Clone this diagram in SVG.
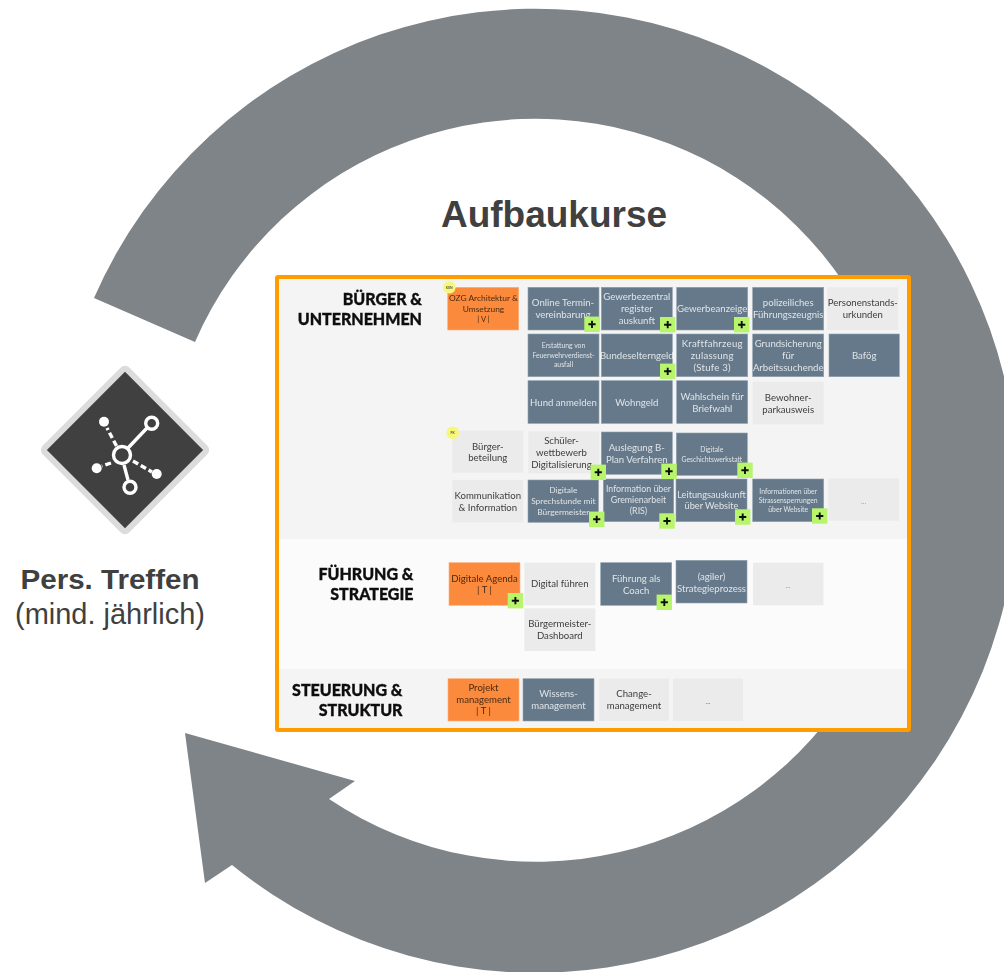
<svg xmlns="http://www.w3.org/2000/svg" width="1004" height="972" viewBox="0 0 1004 972">
<defs>
<filter id="soft" x="-2%" y="-2%" width="104%" height="104%"><feGaussianBlur stdDeviation="0.45"/></filter>
<rect id="p" x="-7.7" y="-7.7" width="15.4" height="15.4" fill="#b9f56b"/>
<path id="pm" d="M-3.6 0H3.6M0-3.6V3.6" stroke="#111" stroke-width="1.9" fill="none"/>
</defs>
<style>
text{font-family:"Lato","Liberation Sans",sans-serif;text-anchor:middle}
.b rect{fill:#66798a;stroke:#8fa0ae;stroke-width:.6}
.b text{fill:#dfe4e8;font-size:9.6px}
.g rect{fill:#ebebeb}
.g text{fill:#3d3d3d;font-size:9.6px}
.o rect{fill:#fb8a3e;stroke:#fcb07c;stroke-width:.6}
.o text{fill:#4a2a12;font-size:9.6px}
.s{font-size:6.8px!important}
.x{font-size:7.6px!important}
.h{font-family:"Lato","Liberation Sans",sans-serif;font-weight:900;font-size:16px;fill:#111;stroke:#111;stroke-width:.35;text-anchor:end}
.lab{font-family:"Liberation Sans",Arial,sans-serif}
</style>
<g id="cycle-arrow"><path d="M94 298A482 482 0 1 1 232 865L205 883L185 733L355 781L329 799A371.5 371.5 0 1 0 195 342Z" fill="#7f8488"/></g>
<text id="title" class="lab" x="554" y="227" font-size="37" font-weight="700" fill="#404040">Aufbaukurse</text>
<g id="meeting-icon">
<rect x="66.75" y="391.75" width="116.5" height="116.5" rx="3" transform="rotate(45 125 450)" fill="#404040" stroke="#dcdcdc" stroke-width="6"/>
<g stroke="#fff" fill="none" stroke-width="3.4">
<path d="M128 448L147 428M124 465L128 480"/>
<path d="M116.5 446L107 428M111 463L102 466M133 461L152 472" stroke-dasharray="6 3"/>
<circle cx="122" cy="455" r="8.5"/><circle cx="151.7" cy="423.3" r="6"/><circle cx="130" cy="487.3" r="6"/>
</g>
<g fill="#fff"><circle cx="104" cy="421.7" r="5"/><circle cx="96.7" cy="468.3" r="5"/><circle cx="156.7" cy="474" r="5"/></g>
</g>
<text id="pers-bold" class="lab" x="110" y="589" font-size="29.5" font-weight="700" fill="#404040" style="font-size:27px;letter-spacing:.0px" textLength="179" lengthAdjust="spacingAndGlyphs">Pers. Treffen</text>
<text id="pers-sub" class="lab" x="110" y="623.5" font-size="29" fill="#404040" textLength="190" lengthAdjust="spacingAndGlyphs">(mind. jährlich)</text>
<g id="board" filter="url(#soft)">
<rect x="277" y="277" width="632" height="453" rx="1" fill="#f4f4f4"/>
<rect x="279" y="539" width="628" height="130" fill="#fbfbfb"/>
<text class="h" x="422" y="305">BÜRGER &amp;</text><text class="h" x="422" y="324.5">UNTERNEHMEN</text>
<text class="h" x="413.5" y="580">FÜHRUNG &amp;</text><text class="h" x="413.5" y="600">STRATEGIE</text>
<text class="h" x="402.5" y="696">STEUERUNG &amp;</text><text class="h" x="402.5" y="716">STRUKTUR</text>

<g id="n1" class="o"><rect x="447.7" y="287.3" width="71" height="42.7"/><text x="483.5" y="301" style="font-size:8.4px">OZG Architektur &amp;</text><text x="483.5" y="312" style="font-size:8.4px">Umsetzung</text><text x="483.5" y="322" class="x">| V |</text></g>
<g id="n2" class="b"><rect x="528" y="287.3" width="71" height="42.7"/><text x="563" y="306">Online Termin-</text><text x="563" y="318">vereinbarung</text></g>
<g id="n3" class="b"><rect x="601.3" y="287.3" width="71" height="42.7"/><text x="636.8" y="300">Gewerbezentral</text><text x="636.8" y="312">register</text><text x="636.8" y="324">auskunft</text></g>
<g id="n4" class="b"><rect x="676.7" y="287.3" width="71" height="42.7"/><text x="712.2" y="312">Gewerbeanzeige</text></g>
<g id="n5" class="b"><rect x="752.7" y="287.3" width="71" height="42.7"/><text x="788.2" y="306">polizeiliches</text><text x="788.2" y="318">Führungszeugnis</text></g>
<g id="n6" class="g"><rect x="827.3" y="287.3" width="71" height="42.7"/><text x="862.8" y="306">Personenstands-</text><text x="862.8" y="318">urkunden</text></g>

<g id="n7" class="b"><rect x="528" y="334" width="71" height="42.7"/><text class="s" x="563.5" y="348">Erstattung von</text><text class="s" x="563.5" y="357.5">Feuerwehrverdienst-</text><text class="s" x="563.5" y="367">ausfall</text></g>
<g id="n8" class="b"><rect x="601.3" y="334" width="71" height="42.7"/><text x="636.8" y="359">Bundeselterngeld</text></g>
<g id="n9" class="b"><rect x="676.7" y="334" width="71" height="42.7"/><text x="712.2" y="347" letter-spacing=".25">Kraftfahrzeug</text><text x="712.2" y="359" letter-spacing=".25">zulassung</text><text x="712.2" y="371" letter-spacing=".25">(Stufe 3)</text></g>
<g id="n10" class="b"><rect x="752.7" y="334" width="71" height="42.7"/><text x="788.2" y="347">Grundsicherung</text><text x="788.2" y="359">für</text><text x="788.2" y="371">Arbeitssuchende</text></g>
<g id="n11" class="b"><rect x="829" y="334" width="70.3" height="42.7"/><text x="864.2" y="359">Bafög</text></g>

<g id="n12" class="b"><rect x="528" y="380.7" width="71" height="42.7"/><text x="563.5" y="405.5">Hund anmelden</text></g>
<g id="n13" class="b"><rect x="601.3" y="380.7" width="71" height="42.7"/><text x="636.8" y="405.5">Wohngeld</text></g>
<g id="n14" class="b"><rect x="676.7" y="380.7" width="71" height="42.7"/><text x="712.2" y="399.5">Wahlschein für</text><text x="712.2" y="411.5">Briefwahl</text></g>
<g id="n15" class="g"><rect x="752.7" y="381.7" width="71" height="42.7"/><text x="788.2" y="400.5">Bewohner-</text><text x="788.2" y="412.5">parkausweis</text></g>

<g id="n16" class="g"><rect x="452.3" y="430.7" width="71" height="42"/><text x="487.8" y="449.5">Bürger-</text><text x="487.8" y="461">beteilung</text></g>
<g id="n17" class="g"><rect x="528.3" y="431.3" width="71" height="42"/><text x="561.5" y="444">Schüler-</text><text x="561.5" y="456">wettbewerb</text><text x="561.5" y="468">Digitalisierung</text></g>
<g id="n18" class="b"><rect x="601.3" y="432" width="71" height="42.3"/><text x="636.8" y="451">Auslegung B-</text><text x="636.8" y="463">Plan Verfahren</text></g>
<g id="n19" class="b"><rect x="676.3" y="433" width="71" height="42.3"/><text class="s" x="711.8" y="452">Digitale</text><text class="s" x="711.8" y="461.5">Geschichtswerkstatt</text></g>

<g id="n20" class="g"><rect x="452.3" y="480" width="71" height="42.3"/><text x="487.8" y="498.5">Kommunikation</text><text x="487.8" y="510.5">&amp; Information</text></g>
<g id="n21" class="b"><rect x="528" y="480" width="70.5" height="42.3"/><text style="font-size:8.4px" x="563.3" y="493">Digitale</text><text style="font-size:8.4px" x="563.3" y="504">Sprechstunde mit</text><text style="font-size:8.4px" x="563.3" y="515">Bürgermeister</text></g>
<g id="n22" class="b"><rect x="603.3" y="479" width="70.4" height="42.7"/><text style="font-size:8.8px" x="638.5" y="492">Information über</text><text style="font-size:8.8px" x="638.5" y="503">Gremienarbeit</text><text style="font-size:8.8px" x="638.5" y="514">(RIS)</text></g>
<g id="n23" class="b"><rect x="676" y="479" width="71" height="42.7"/><text style="font-size:9.2px" x="711.5" y="498">Leitungsauskunft</text><text style="font-size:9.2px" x="711.5" y="509">über Website</text></g>
<g id="n24" class="b"><rect x="752.7" y="479" width="71" height="42.7"/><text class="s" x="788.2" y="494">Informationen über</text><text class="s" x="788.2" y="503">Strassensperrungen</text><text class="s" x="788.2" y="512">über Website</text></g>
<g id="n25" class="g"><rect x="828.3" y="478.3" width="70.7" height="42.4"/><text x="863.6" y="504" style="fill:#999;font-size:7px">...</text></g>

<g id="n26" class="o"><rect x="449" y="562.7" width="71" height="42.6"/><text x="484.5" y="582">Digitale Agenda</text><text x="484.5" y="593">| T |</text></g>
<g id="n27" class="g"><rect x="524.3" y="562.7" width="71" height="42.6"/><text x="559.8" y="587">Digital führen</text></g>
<g id="n28" class="b"><rect x="600.7" y="562.7" width="71" height="42.6"/><text x="636.2" y="582">Führung als</text><text x="636.2" y="593.5">Coach</text></g>
<g id="n29" class="b"><rect x="676" y="560.3" width="71" height="42.7"/><text x="711.5" y="580">(agiler)</text><text x="711.5" y="591.5">Strategieprozess</text></g>
<g id="n30" class="g"><rect x="753" y="562.7" width="70.5" height="42.6"/><text x="788.2" y="588" style="fill:#999;font-size:7px">...</text></g>
<g id="n31" class="g"><rect x="524.3" y="608.3" width="71" height="42.7"/><text x="559.8" y="627">Bürgermeister-</text><text x="559.8" y="639">Dashboard</text></g>

<g id="n32" class="o"><rect x="448" y="678.7" width="71" height="42.3"/><text x="483.5" y="691">Projekt</text><text x="483.5" y="703">management</text><text x="483.5" y="714">| T |</text></g>
<g id="n33" class="b"><rect x="523" y="678.7" width="71" height="42.3"/><text x="558.5" y="697">Wissens-</text><text x="558.5" y="709">management</text></g>
<g id="n34" class="g"><rect x="599" y="678.7" width="70" height="42.3"/><text x="634" y="697">Change-</text><text x="634" y="709">management</text></g>
<g id="n35" class="g"><rect x="673" y="678.7" width="70" height="42.3"/><text x="708" y="704" style="fill:#777;font-size:7px">...</text></g>

<g id="plus-badges">
<g transform="translate(592,324.3)"><use href="#p"/><use href="#pm"/></g>
<g transform="translate(667.7,324.7)"><use href="#p"/><use href="#pm"/></g>
<g transform="translate(741.7,324.7)"><use href="#p"/><use href="#pm"/></g>
<g transform="translate(667.7,371.3)"><use href="#p"/><use href="#pm"/></g>
<g transform="translate(598.3,472.3)"><use href="#p"/><use href="#pm"/></g>
<g transform="translate(669,471.3)"><use href="#p"/><use href="#pm"/></g>
<g transform="translate(745,470.3)"><use href="#p"/><use href="#pm"/></g>
<g transform="translate(596.7,519.3)"><use href="#p"/><use href="#pm"/></g>
<g transform="translate(667,521)"><use href="#p"/><use href="#pm"/></g>
<g transform="translate(742.7,517)"><use href="#p"/><use href="#pm"/></g>
<g transform="translate(819.7,516)"><use href="#p"/><use href="#pm"/></g>
<g transform="translate(515.4,600.7)"><use href="#p"/><use href="#pm"/></g>
<g transform="translate(664.3,602.3)"><use href="#p"/><use href="#pm"/></g>
</g>
<g id="tag-ken"><circle cx="449.3" cy="287.3" r="6.3" fill="#f7f77c"/><text x="449.3" y="288.5" font-size="3.4" font-weight="700" fill="#555">KEN</text></g>
<g id="tag-pk"><circle cx="452.7" cy="432.7" r="6.3" fill="#f7f77c"/><text x="452.7" y="434" font-size="3.4" font-weight="700" fill="#555">PK</text></g>
</g>
<rect id="frame" x="277" y="277" width="632" height="453" rx="1" fill="none" stroke="#ff9d00" stroke-width="4"/>
</svg>
